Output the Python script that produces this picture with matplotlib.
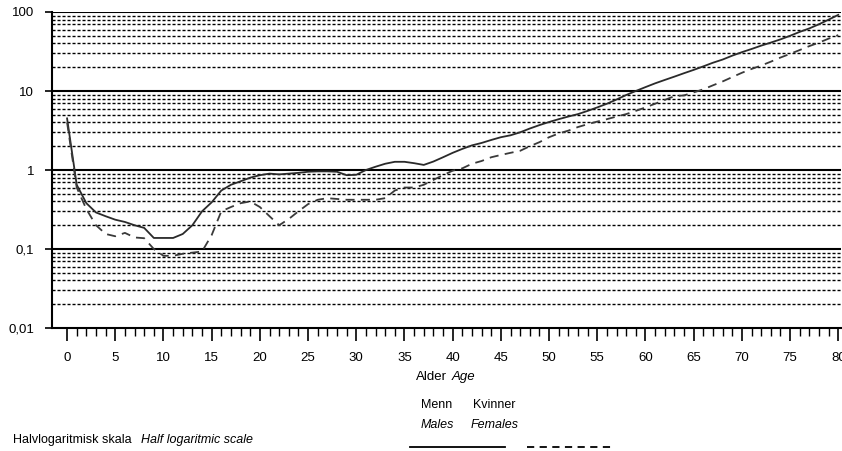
import matplotlib
matplotlib.use("Agg")
import matplotlib.pyplot as plt
from matplotlib.lines import Line2D
from matplotlib.ticker import FixedLocator, NullFormatter
import numpy as np

plt.rcParams['font.family'] = ['Liberation Sans Narrow', 'Liberation Sans', 'DejaVu Sans']

ages = np.arange(0, 81)

menn = [4.5, 0.65, 0.38, 0.29, 0.26, 0.235, 0.22, 0.2, 0.185, 0.138,
        0.138, 0.138, 0.155, 0.2, 0.3, 0.39, 0.55, 0.65, 0.72, 0.8,
        0.86, 0.9, 0.88, 0.9, 0.92, 0.95, 0.96, 0.96, 0.95, 0.86,
        0.87, 1.0, 1.1, 1.2, 1.27, 1.27, 1.22, 1.16, 1.28, 1.45,
        1.65, 1.85, 2.05, 2.2, 2.4, 2.6, 2.75, 3.0, 3.35, 3.7,
        4.05, 4.4, 4.75, 5.1, 5.6, 6.2, 6.9, 7.8, 8.9, 10.0,
        11.2, 12.5, 13.8, 15.2, 16.8, 18.5, 20.5, 22.8, 25, 28,
        31, 34, 37.5, 41, 45, 50, 56, 62, 70, 80, 92]

kvinner = [4.0, 0.6, 0.32, 0.2, 0.155, 0.145, 0.16, 0.14, 0.137, 0.1,
           0.082, 0.082, 0.087, 0.09, 0.093, 0.15, 0.3, 0.34, 0.38, 0.4,
           0.34, 0.26, 0.2, 0.24, 0.3, 0.37, 0.42, 0.44, 0.43, 0.42,
           0.42, 0.42, 0.42, 0.44, 0.55, 0.6, 0.6, 0.65, 0.75, 0.86,
           0.98, 1.05, 1.2, 1.3, 1.45, 1.55, 1.65, 1.75, 2.0, 2.25,
           2.6, 2.9, 3.15, 3.5, 3.8, 4.1, 4.4, 4.75, 5.1, 5.6,
           6.2, 6.9, 7.7, 8.6, 8.8, 9.6, 10.5, 11.8, 13.2, 15,
           17, 19, 21, 23.5, 26.5, 29.5, 33, 37, 41, 46, 51]

y_major = [0.01, 0.1, 1, 10, 100]
y_labels = ['0,01', '0,1', '1', '10', '100']
x_major = list(range(0, 81, 5))

fig = plt.figure(figsize=(8.42, 4.51), dpi=100)
ax = fig.add_axes([0.0618, 0.2727, 0.9372, 0.7007])

ax.set_yscale('log')
ax.set_ylim(0.01, 100)
ax.set_xlim(-1.56, 80.3)

# gridlines: solid decades, dashed between
minor_y = [m * d for d in [0.01, 0.1, 1, 10] for m in range(2, 10)]
for v in minor_y:
    ax.axhline(v, color='black', lw=1.0, ls=(0, (2.2, 1.4)), zorder=1)
for v in y_major[1:]:
    ax.axhline(v, color='black', lw=1.5, zorder=1)

ax.plot(ages, menn, color='#2a2a2a', lw=1.3, zorder=3)
ax.plot(ages, kvinner, color='#3a3a3a', lw=1.3, ls=(0, (5, 3.5)), zorder=3)

ax.yaxis.set_major_locator(FixedLocator(y_major))
ax.set_yticklabels(y_labels)
ax.yaxis.set_minor_locator(FixedLocator([]))
ax.yaxis.set_minor_formatter(NullFormatter())
ax.tick_params(axis='y', which='major', direction='out', length=5, width=1.2,
               labelsize=9.5, pad=8, colors='black')

ax.set_xticks(x_major)
ax.set_xticks(list(range(0, 81)), minor=True)
ax.tick_params(axis='x', which='major', direction='out', length=9, width=1.2,
               labelsize=9.5, pad=8)
ax.tick_params(axis='x', which='minor', direction='out', length=6, width=1.0)

for s in ['top', 'right']:
    ax.spines[s].set_visible(False)
for s in ['left', 'bottom']:
    ax.spines[s].set_linewidth(1.5)

# axis title
fig.text(0.531, 0.163, 'Alder', ha='right', va='center', fontsize=9.5)
fig.text(0.536, 0.163, 'Age', ha='left', va='center', fontsize=9.5, style='italic')

# scale note and legend
fig.text(0.016, 0.025, 'Halvlogaritmisk skala', ha='left', va='center', fontsize=9)
fig.text(0.167, 0.025, 'Half logaritmic scale', ha='left', va='center', fontsize=9, style='italic')

fig.text(0.519, 0.102, 'Menn', ha='center', va='center', fontsize=9)
fig.text(0.519, 0.058, 'Males', ha='center', va='center', fontsize=9, style='italic')
fig.text(0.587, 0.102, 'Kvinner', ha='center', va='center', fontsize=9)
fig.text(0.587, 0.058, 'Females', ha='center', va='center', fontsize=9, style='italic')
fig.add_artist(Line2D([0.487, 0.600], [0.009, 0.009], transform=fig.transFigure,
                      color='black', lw=1.3))
fig.add_artist(Line2D([0.626, 0.730], [0.009, 0.009], transform=fig.transFigure,
                      color='black', lw=1.3, ls=(0, (4, 3))))

fig.savefig('out.png', dpi=100)
